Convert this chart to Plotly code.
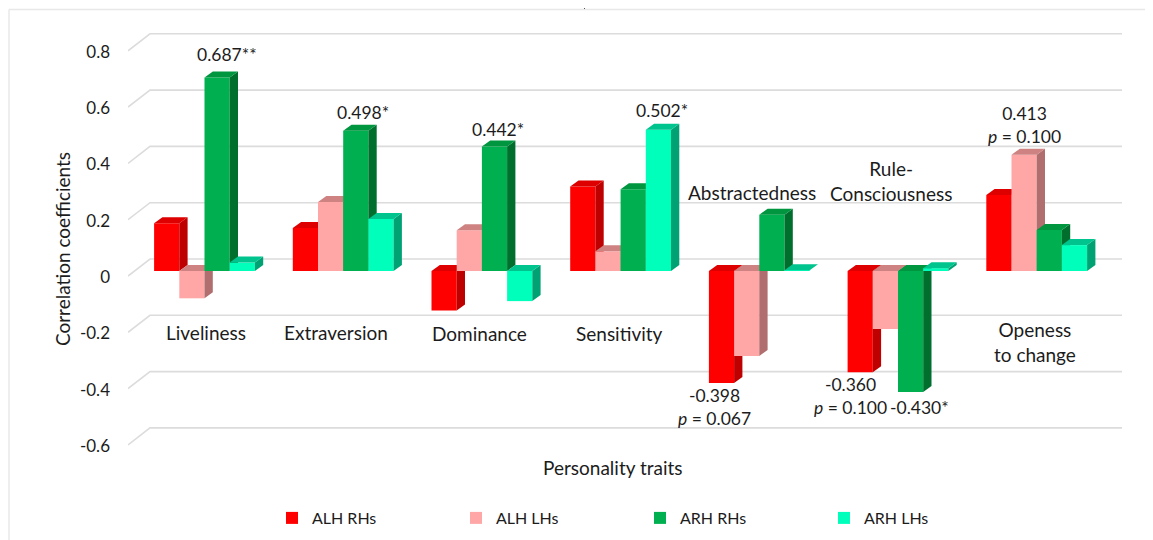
import plotly.graph_objects as go

# ---- data ----
categories = ["Liveliness", "Extraversion", "Dominance", "Sensitivity",
              "Abstractedness", "Rule-Consciousness", "Openess to change"]
series_names = ["ALH RHs", "ALH LHs", "ARH RHs", "ARH LHs"]
alh_rhs = [0.170, 0.153, -0.140, 0.300, -0.398, -0.360, 0.270]
alh_lhs = [-0.097, 0.245, 0.145, 0.070, -0.302, -0.206, 0.413]
arh_rhs = [0.687, 0.498, 0.442, 0.290, 0.200, -0.430, 0.146]
arh_lhs = [0.030, 0.185, -0.107, 0.502, 0.003, 0.010, 0.092]
tick_values = [0.8, 0.6, 0.4, 0.2, 0, -0.2, -0.4, -0.6]
tick_labels = ["0.8", "0.6", "0.4", "0.2", "0", "-0.2", "-0.4", "-0.6"]
value_labels = ["0.687**", "0.498*", "0.442*", "0.502*", "0.413<br><i>p</i> = 0.100",
                "-0.398<br><i>p</i> = 0.067", "-0.360<br><i>p</i> = 0.100", "-0.430*"]
category_texts = ["Liveliness", "Extraversion", "Dominance", "Sensitivity", "Abstractedness",
                  "Rule-<br>Consciousness", "Openess<br>to change"]
x_title = "Personality traits"
y_title = "Correlation coefficients"

# ---- style / layout (all px below are page px; the page body adds an 8 px margin) ----
PAGE = 8
W, H = 1153, 540
L, R, T, B = 128, 1122, 20, 478
UNIT_Y = 281.5      # px per unit
ZERO_Y = 271        # px of value 0 on bar fronts
GROUP_PX = 138.7
FIRST_PX = 204.5
BAR_PX = 25.2
y_range = [(ZERO_Y - B) / UNIT_Y, (ZERO_Y - T) / UNIT_Y]
x_range = [(L - FIRST_PX) / GROUP_PX, (R - FIRST_PX) / GROUP_PX]
bar_w = BAR_PX / GROUP_PX
dx = 8.3 / GROUP_PX
dy = 6.0 / UNIT_Y
front_colors = ["#FF0000", "#FFA7A7", "#00B050", "#00FFBB"]
side_colors = ["#BE0000", "#B06E6E", "#006F2E", "#00A274"]
top_colors = ["#DE0000", "#CE8282", "#00953F", "#00C48E"]
FONT = "Lato, Carlito, sans-serif"
TXT = "#1c1c1c"
all_series = [alh_rhs, alh_lhs, arh_rhs, arh_lhs]

px2x = lambda p: (p - L) / (R - L)
px2y = lambda p: 1 - (p - T) / (B - T)

fig = go.Figure()

# back-wall gridlines with the slanted floor-edge part
wall = 12 / UNIT_Y
edge = -5 / UNIT_Y
tick_shift = -6 / UNIT_Y
gx, gy = [], []
for v in tick_values:
    gx += [x_range[0], x_range[0] + 22 / GROUP_PX, x_range[1], None]
    gy += [v + edge, v + wall, v + wall, None]
fig.add_trace(go.Scatter(x=gx, y=gy, mode="lines", line=dict(color="#DCDCDC", width=1.6),
                         showlegend=False, hoverinfo="skip"))

# each series sits on its own overlaid axis so later bars cover earlier sides
for s, values in enumerate(all_series):
    ya = f"y{s + 2}"
    offset = (s - 1.5) * bar_w
    xs = [i + offset for i in range(len(values))]
    sx, sy, tx, ty = [], [], [], []
    for x0, v in zip(xs, values):
        xr = x0 + bar_w / 2
        xl = x0 - bar_w / 2
        hi = max(v, 0)
        lo = min(v, 0)
        sx += [xr, xr + dx, xr + dx, xr, xr, None]
        sy += [lo, lo + dy, hi + dy, hi, lo, None]
        tx += [xl, xl + dx, xr + dx, xr, xl, None]
        ty += [hi, hi + dy, hi + dy, hi, hi, None]
    fig.add_trace(go.Scatter(x=sx, y=sy, yaxis=ya, mode="lines", fill="toself", fillcolor=side_colors[s],
                             line=dict(width=0, color=side_colors[s]), showlegend=False, hoverinfo="skip"))
    fig.add_trace(go.Scatter(x=tx, y=ty, yaxis=ya, mode="lines", fill="toself", fillcolor=top_colors[s],
                             line=dict(width=0, color=top_colors[s]), showlegend=False, hoverinfo="skip"))
    fig.add_trace(go.Bar(x=xs, y=values, width=bar_w, yaxis=ya, name=series_names[s],
                         marker=dict(color=front_colors[s], line=dict(width=0)),
                         customdata=categories, hovertemplate="%{customdata}: %{y}<extra>%{fullData.name}</extra>"))

annos = []
def label(text, cx, cy, size):
    annos.append(dict(text=text, xref="paper", yref="paper", x=px2x(cx), y=px2y(cy), xanchor="center",
                      yanchor="middle", showarrow=False, align="center",
                      font=dict(family=FONT, size=size, color=TXT)))

for text, (cx, cy) in zip(category_texts, [(206, 332), (336, 332), (479, 333), (619, 333), (752, 193),
                                           (891, 180.5), (1035, 341.5)]):
    label(text, cx, cy, 19)
for text, (cx, cy) in zip(value_labels, [(227, 54), (363, 112), (498, 129), (662, 110), (1024, 125),
                                         (714, 407), (850, 396), (919, 407)]):
    label(text, cx, cy, 17.5)
label(x_title, 613, 467, 19)

lines = [(9, 9.5, W, 9.5), (9, 9.5, 9, H), (584, 8.5, 585, 8.5)]
shapes = []
for i, (x0, y0, x1, y1) in enumerate(lines):
    shapes.append(dict(type="line", xref="paper", yref="paper", x0=px2x(x0), x1=px2x(x1), y0=px2y(y0), y1=px2y(y1),
                       line=dict(color="#E8E8E8" if i < 2 else "#555555", width=1.5 if i < 2 else 1)))

hidden = dict(range=y_range, overlaying="y", visible=False)
fig.update_layout(
    width=W - PAGE, height=H - PAGE, autosize=False, plot_bgcolor="white", paper_bgcolor="white",
    margin=dict(l=L - PAGE, r=W - R, t=T - PAGE, b=H - B, autoexpand=False),
    barmode="overlay", annotations=annos, shapes=shapes,
    font=dict(family=FONT, size=17, color=TXT),
    xaxis=dict(range=x_range, visible=False),
    yaxis=dict(range=y_range, tickmode="array", tickvals=[v + tick_shift for v in tick_values], ticktext=tick_labels,
               showgrid=False, zeroline=False, showline=False, ticks="", ticklabelstandoff=17,
               title=dict(text=y_title, standoff=4, font=dict(family=FONT, size=19, color=TXT))),
    yaxis2=hidden, yaxis3=hidden, yaxis4=hidden, yaxis5=hidden,
    legend=dict(orientation="h", x=px2x(272), y=px2y(518), xanchor="left", yanchor="middle",
                entrywidth=139, entrywidthmode="pixels", font=dict(family=FONT, size=16, color=TXT),
                itemclick=False, itemdoubleclick=False),
)
fig.write_html("out.html")
